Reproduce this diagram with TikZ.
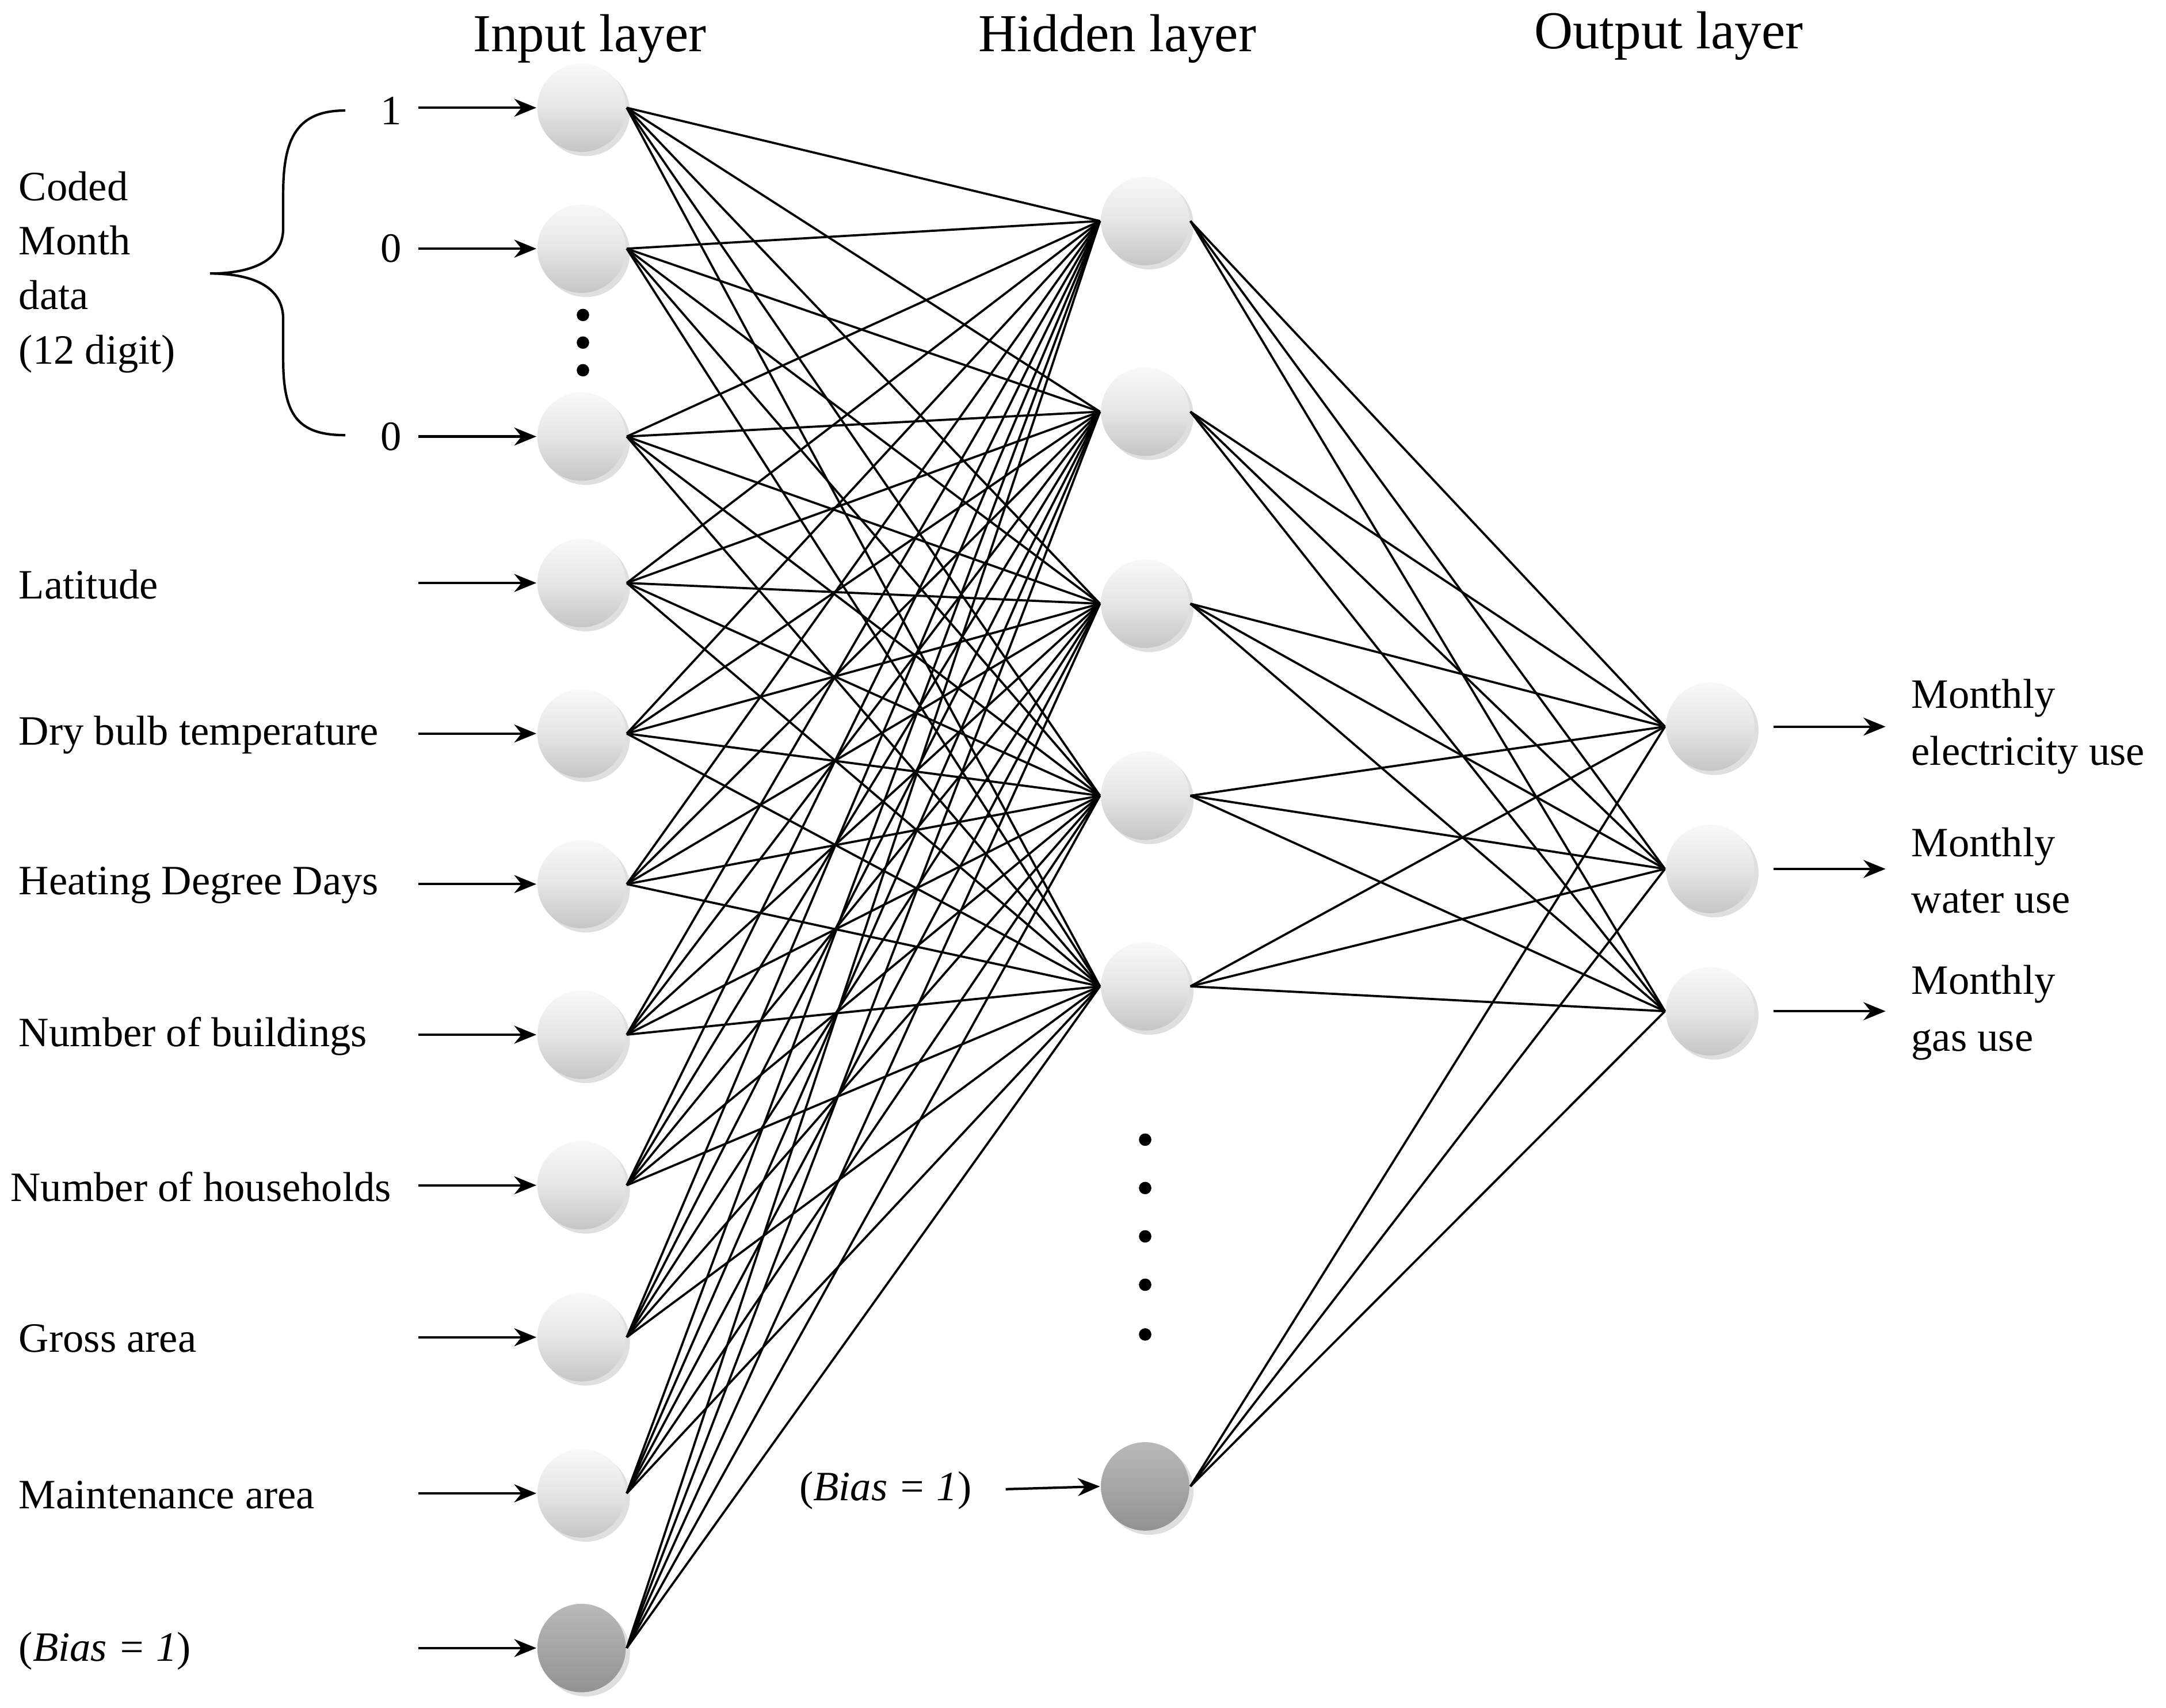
\documentclass[tikz,border=0pt]{standalone}
\usepackage{fontspec}
\setmainfont{Liberation Serif}
\usetikzlibrary{arrows.meta,shadows}
\begin{document}
\begin{tikzpicture}[x=0.01cm,y=-0.01cm,
  neuron/.style={circle,minimum size=0.64cm,inner sep=0pt,top color=gray!5,bottom color=gray!45,middle color=gray!20,drop shadow={opacity=0.25,shadow xshift=0.3mm,shadow yshift=-0.3mm}},
  bias/.style={circle,minimum size=0.64cm,inner sep=0pt,top color=gray!55,bottom color=gray!85,middle color=gray!70,drop shadow={opacity=0.25,shadow xshift=0.3mm,shadow yshift=-0.3mm}},
  lbl/.style={font=\fontsize{8.6}{10.5}\selectfont,inner sep=0pt,anchor=west,align=left},
  ttl/.style={font=\fontsize{11}{13}\selectfont,inner sep=0pt},
  arr/.style={-{Stealth[length=1.6mm,width=1.3mm]},line width=0.5pt},
  con/.style={line width=0.45pt},
  dot/.style={circle,fill=black,minimum size=0.1cm,inner sep=0pt}]
\useasboundingbox (0,0) rectangle (1568,1236);
% titles
\node[ttl] (t1) at (427,28) {Input layer};
\node[ttl] (t2) at (809,28) {Hidden layer};
\node[ttl] (t3) at (1208,26) {Output layer};
% input nodes
\foreach \n/\y in {1/78,2/180,3/316,4/422,5/531,6/640,7/749,8/858,9/968,10/1081}
  \node[neuron] (i\n) at (421,\y) {};
\node[bias] (i11) at (421,1193) {};
% hidden
\foreach \n/\y in {1/160,2/298,3/437,4/576,5/714}
  \node[neuron] (h\n) at (829,\y) {};
\node[bias] (h6) at (829,1076) {};
% output
\foreach \n/\y in {1/526,2/629,3/732}
  \node[neuron] (o\n) at (1238,\y) {};
% connections
\foreach \a in {1,...,11}
  \foreach \b in {1,...,5}
    \draw[con] (i\a.east) -- (h\b.west);
\foreach \a in {1,...,6}
  \foreach \b in {1,2,3}
    \draw[con] (h\a.east) -- (o\b.west);
% input arrows
\foreach \n/\y in {1/78,2/180,3/316,4/422,5/531,6/640,7/749,8/858,9/968,10/1081,11/1193}
  \coordinate (s\n) at (303,\y);
\foreach \n in {1,...,11}
  \draw[arr] (s\n) -- (i\n.west);
% labels
\node[lbl,anchor=center] (n1) at (283,80) {1};
\node[lbl,anchor=center] (n2) at (283,180) {0};
\node[lbl,anchor=center] (n3) at (283,316) {0};
\node[lbl] (cm) at (13,197) {Coded\\[0.25mm]Month\\[0.25mm]data\\[0.25mm](12 digit)};
\node[lbl] (l4) at (13,423) {Latitude};
\node[lbl] (l5) at (13,532) {Dry bulb temperature};
\node[lbl] (l6) at (13,641) {Heating Degree Days};
\node[lbl] (l7) at (13,750) {Number of buildings};
\node[lbl] (l8) at (7,859) {Number of households};
\node[lbl] (l9) at (13,969) {Gross area};
\node[lbl] (l10) at (13,1082) {Maintenance area};
\node[lbl] (l11) at (13,1195) {(\textit{Bias = 1})};
% brace
\draw[line width=0.5pt] (250,80) .. controls (215,80) and (205,100) .. (205,140) -- (205,165)
  .. controls (205,190) and (180,198) .. (152,198)
  .. controls (180,198) and (205,206) .. (205,231) -- (205,260)
  .. controls (205,300) and (215,315) .. (250,315);
% dots
\foreach \y [count=\k] in {228,248,268} \node[dot,minimum size=0.09cm] (di\k) at (422,\y) {};
\foreach \y [count=\k] in {825,860,895,930,966} \node[dot,minimum size=0.09cm] (dh\k) at (829,\y) {};
% hidden bias
\node[lbl,anchor=east] (hb) at (704,1079) {(\textit{Bias = 1})};
\coordinate (hs) at (728,1078);
\draw[arr] (hs) -- (h6.west);
% outputs
\foreach \n/\y in {1/526,2/629,3/732} {
  \coordinate (oe\n) at (1365,\y);
  \draw[arr] (o\n.east) ++(0.13cm,0) -- (oe\n);
}
\node[lbl] (ol1) at (1383,526) {Monthly\\[0.4mm]electricity use};
\node[lbl] (ol2) at (1383,630) {Monthly\\[0.4mm]water use};
\node[lbl] (ol3) at (1383,733) {Monthly\\[0.4mm]gas use};
\end{tikzpicture}
\end{document}
